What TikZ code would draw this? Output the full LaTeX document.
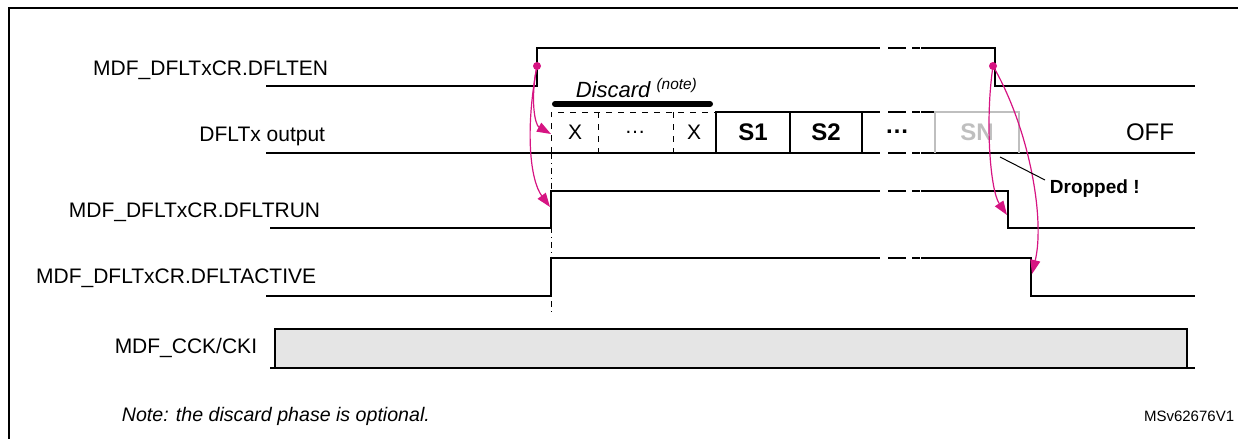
\documentclass[tikz,border=0pt]{standalone}
\usepackage{fontspec}
\setmainfont{Liberation Sans}
\usetikzlibrary{arrows.meta}
\definecolor{magent}{RGB}{214,20,130}
\tikzset{
  sig/.style={line width=1.2pt},
  lbl/.style={anchor=east,inner sep=0.75pt,font=\fontsize{10.5}{12}\selectfont},
  cause/.style={magent,line width=0.6pt,-{Triangle[length=7pt,width=5pt]}},
  gap/.style={line width=1.2pt,dash pattern=on 9pt off 3pt on 3pt off 0pt}
}
\begin{document}
\begin{tikzpicture}[x=0.5pt,y=0.5pt,yscale=-1,xscale=1]
\useasboundingbox (0,0) rectangle (1238,439);
%frame
\draw [line width=1pt] (9,439) -- (9,8) -- (1238,8);

%DFLTEN
\draw [sig] (266,86) -- (537,86) -- (537,48) -- (880,48);
\draw [sig] (921,48) -- (995,48) -- (995,86) -- (1195,86);
\draw [gap] (888,48) -- (920,48);
%output
\draw [sig] (266,153) -- (880,153);
\draw [sig] (921,153) -- (1195,153);
\draw [gap] (888,153) -- (920,153);
\draw [sig] (716,153) -- (716,112) -- (880,112);
\draw [sig] (790,112) -- (790,153);
\draw [sig] (862,112) -- (862,153);
\draw [sig] (921,112) -- (935,112);
\draw [gap] (888,112) -- (920,112);
\draw [gray!50,line width=1.2pt] (935,153) -- (935,112) -- (1019,112) -- (1019,153);
\draw [dashed,line width=0.5pt] (551,153) -- (551,112) -- (716,112);
\draw [dashed,line width=0.5pt] (598,112) -- (598,153) (673,112) -- (673,153);
\draw [line width=3pt,line cap=round] (555,104) -- (710,104);
%DFLTRUN
\draw [sig] (270,228) -- (551,228) -- (551,191) -- (880,191);
\draw [sig] (921,191) -- (1008,191) -- (1008,228) -- (1195,228);
\draw [gap] (888,191) -- (920,191);
%DFLTACTIVE
\draw [sig] (266,296) -- (551,296) -- (551,258) -- (880,258);
\draw [sig] (921,258) -- (1031,258) -- (1031,296) -- (1195,296);
\draw [gap] (888,258) -- (920,258);
\draw [dash dot,line width=0.5pt] (551,153) -- (551,312);
%CCK
\draw [sig,fill=gray!20] (275,368) -- (275,329) -- (1187,329) -- (1187,368);
\draw [sig] (270,368) -- (1195,368);

% Text Node
\node [lbl] (en) at (330,70) {MDF\_DFLTxCR.DFLTEN};
\node [lbl] (out) at (327,136) {DFLTx output};
\node [lbl] (run) at (322,212) {MDF\_DFLTxCR.DFLTRUN};
\node [lbl] (act) at (318,278) {MDF\_DFLTxCR.DFLTACTIVE};
\node [lbl] (cck) at (259,348) {MDF\_CCK/CKI};
\node [anchor=west,inner sep=0.75pt,font=\fontsize{9.8}{11}\itshape] (note) at (120,416) {Note: the discard phase is optional.};
\node [anchor=east,inner sep=0.75pt,font=\fontsize{7.5}{9}\selectfont] (ver) at (1236,416) {MSv62676V1};
\node [anchor=west,inner sep=0.75pt,font=\fontsize{11}{12}\itshape] (disc) at (574,88) {Discard \textsuperscript{(note)}};
\node [font=\fontsize{10.5}{12}\selectfont] (x1) at (575,132) {X};
\node [font=\fontsize{10.5}{12}\selectfont] (d1) at (635,132) {\dots};
\node [font=\fontsize{10.5}{12}\selectfont] (x2) at (694,132) {X};
\node [font=\fontsize{12}{14}\bfseries] (s1) at (753,132) {S1};
\node [font=\fontsize{12}{14}\bfseries] (s2) at (826,132) {S2};
\node [font=\fontsize{12}{14}\bfseries] (d2) at (897,132) {\dots};
\node [font=\fontsize{12}{14}\bfseries,text=gray!50] (sn) at (977,132) {SN};
\node [font=\fontsize{12}{14}\selectfont] (off) at (1150,132) {OFF};
\node [anchor=west,inner sep=0.75pt,font=\fontsize{9.5}{11}\bfseries] (drop) at (1048,189) {Dropped !};

%causes
\coordinate (enr) at (537,66);
\coordinate (enf) at (993,66);
\fill [magent] (enr) circle (4) (enf) circle (4);
\draw [cause] (enr) .. controls (530,100) and (535,125) .. (551,134);
\draw [cause] (enr) .. controls (525,130) and (530,180) .. (550,207);
\draw [cause] (enf) .. controls (985,120) and (990,190) .. (1007,215);
\draw [cause] (enf) .. controls (1030,130) and (1045,220) .. (1032,274);
\draw [line width=0.5pt] (1000,157) -- (1045,180);
\end{tikzpicture}
\end{document}
